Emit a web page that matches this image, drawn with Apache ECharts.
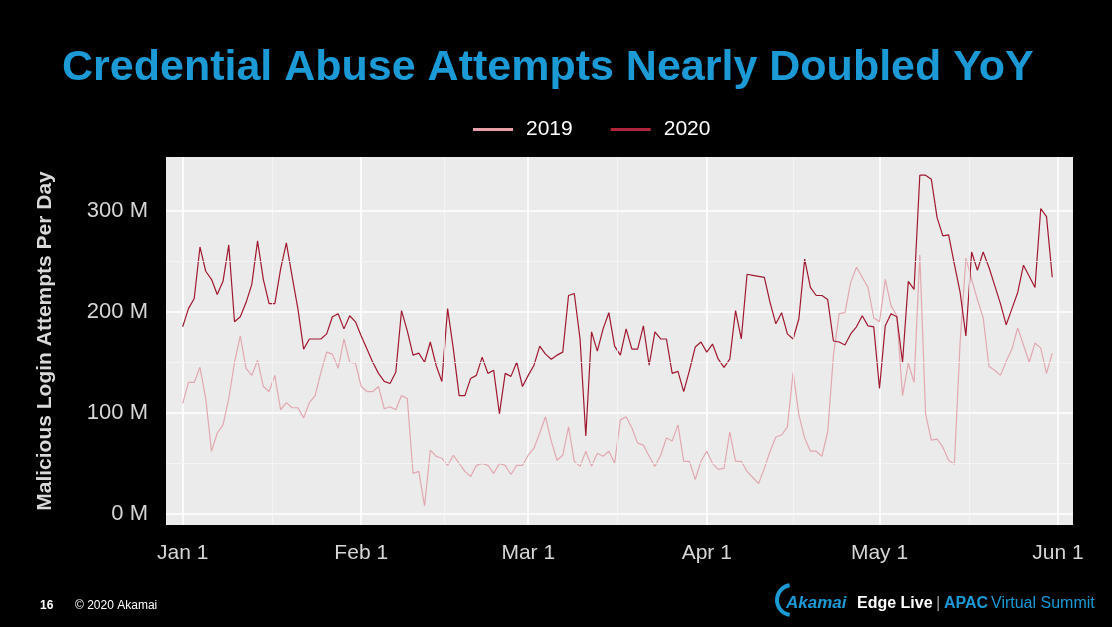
<!DOCTYPE html>
<html><head><meta charset="utf-8">
<script src="https://cdn.jsdelivr.net/npm/echarts@6/dist/echarts.min.js"></script>
<style>html,body{margin:0;padding:0;background:#000;} #c{width:1112px;height:627px;}</style>
</head><body><div id="c"></div>
<script>
const titleText = 'Credential Abuse Attempts Nearly Doubled YoY';
const yAxisTitle = 'Malicious Login Attempts Per Day';
const seriesNames = ['2019', '2020'];
const startDay = [2020, 0, 1];
const values2019 = [109,130,130,145,114,62,80,88,114,150,
176,144,137,152,126,121,137,103,110,105,
105,95,110,117,140,160,158,144,173,150,
149,126,121,121,126,104,106,103,117,114,
40,42,8,63,57,55,48,58,50,42,
37,48,50,48,40,50,48,39,48,48,
58,65,80,96,72,53,58,86,52,47,
62,47,60,57,62,50,93,96,85,70,
68,57,47,58,75,72,88,52,52,34,
52,62,50,44,45,81,52,52,42,36,
30,45,62,76,78,86,140,98,75,62,
62,57,81,157,198,199,229,244,234,224,
194,190,232,206,196,117,149,130,256,99,
73,74,66,53,49,170,253,232,212,194,
146,142,137,151,163,184,167,150,169,164,
139,159];
const values2020 = [185,203,213,264,240,232,217,230,266,190,
195,209,227,270,232,208,208,242,268,235,
203,163,173,173,173,178,195,198,183,196,
190,176,163,150,139,131,129,140,201,181,
157,159,150,170,147,131,203,163,117,117,
134,137,155,139,142,99,139,136,150,126,
137,147,166,158,153,157,160,216,218,173,
77,180,161,183,199,166,157,183,163,163,
186,147,180,173,173,139,141,121,142,165,
170,160,168,153,145,153,201,173,237,236,
235,234,209,188,199,178,173,193,252,224,
216,216,212,171,170,167,178,185,196,186,
185,124,186,198,195,150,230,222,335,335,
331,293,275,276,247,219,176,259,241,259,
244,226,208,187,203,219,246,235,224,302,
294,234];
const xTickDates = [[2020,0,1],[2020,1,1],[2020,2,1],[2020,3,1],[2020,4,1],[2020,5,1]];
const xTickLabels = ['Jan 1', 'Feb 1', 'Mar 1', 'Apr 1', 'May 1', 'Jun 1'];
const yTickValues = [0, 100, 200, 300];
const yMinorValues = [50, 150, 250];

// x axis measured in days since startDay
const DAY = 86400000;
const t0 = Date.UTC(startDay[0], startDay[1], startDay[2]);
const dayOf = (d) => Math.round((Date.UTC(d[0], d[1], d[2]) - t0) / DAY);
const xTickValues = xTickDates.map(dayOf);
const xMinorValues = xTickValues.slice(1).map((v, i) => (v + xTickValues[i]) / 2);
const data2019 = values2019.map((v, i) => [i, v]);
const data2020 = values2020.map((v, i) => [i, v]);
const FONT = 'Liberation Sans, Arial, Helvetica, sans-serif';

const chart = echarts.init(document.getElementById('c'), null, {renderer: 'canvas'});
chart.setOption({
  backgroundColor: '#000000',
  animation: false,
  title: {
    text: titleText, left: 57, top: 42,
    textStyle: {color: '#1b9ad6', fontSize: 43, fontWeight: 'bold', fontFamily: FONT}
  },
  legend: {
    data: seriesNames, left: 468, top: 114, icon: 'rect', itemWidth: 40, itemHeight: 3, itemGap: 38,
    textStyle: {color: '#ffffff', fontSize: 21, fontFamily: FONT, padding: [0, 0, 0, 8]}
  },
  grid: {left: 166, right: 39, top: 157, bottom: 102, show: true, backgroundColor: '#ebebeb', borderWidth: 0},
  xAxis: {
    type: 'value',
    min: -2.9,
    max: 154.6,
    axisLine: {show: false},
    axisTick: {show: false, customValues: xTickValues},
    axisLabel: {
      customValues: xTickValues, color: '#d6d6d6', fontSize: 21, fontFamily: FONT, margin: 18,
      formatter: (val, idx) => { const k = xTickValues.indexOf(val); return xTickLabels[k >= 0 ? k : idx]; }
    },
    splitLine: {show: true, lineStyle: {color: '#ffffff', width: 1.6}}
  },
  yAxis: {
    type: 'value', min: -11, max: 353,
    name: yAxisTitle, nameLocation: 'middle', nameGap: 110, nameRotate: 90,
    nameTextStyle: {color: '#d9d9d9', fontSize: 21, fontWeight: 'bold', fontFamily: FONT},
    axisLine: {show: false},
    axisTick: {show: false, customValues: yTickValues},
    axisLabel: {customValues: yTickValues, color: '#d6d6d6', fontSize: 22, fontFamily: FONT, margin: 18,
      formatter: (v) => v + ' M'},
    splitLine: {show: true, lineStyle: {color: '#ffffff', width: 1.6}}
  },
  series: [
    {
      type: 'line', name: 'minor', data: [], z: 1, silent: true,
      markLine: {
        silent: true, symbol: 'none', label: {show: false}, animation: false,
        lineStyle: {color: '#f6f6f6', width: 0.8, type: 'solid'},
        emphasis: {disabled: true},
        data: yMinorValues.map(v => ({yAxis: v})).concat(xMinorValues.map(v => ({xAxis: v})))
      }
    },
    {type: 'line', name: seriesNames[0], data: data2019, showSymbol: false, z: 2,
      itemStyle: {color: '#e6a0aa'}, lineStyle: {color: '#e2a8b0', width: 1.2}},
    {type: 'line', name: seriesNames[1], data: data2020, showSymbol: false, z: 3,
      itemStyle: {color: '#b0253c'}, lineStyle: {color: '#a01830', width: 1.2}}
  ],
  graphic: [
    {type: 'text', left: 40, top: 600, style: {text: '16', fill: '#ffffff', font: 'bold 12px ' + FONT}},
    {type: 'text', left: 75, top: 600, style: {text: '© 2020 Akamai', fill: '#ffffff', font: '12px ' + FONT}},
    {type: 'arc', shape: {cx: 792, cy: 600, r: 15, startAngle: Math.PI * 0.55, endAngle: Math.PI * 1.45},
      style: {stroke: '#1b9ad6', lineWidth: 4, fill: null}},
    {type: 'text', left: 786, top: 595, style: {text: 'Akamai', fill: '#1b9ad6', font: 'italic bold 17px ' + FONT}},
    {type: 'text', left: 857, top: 596, style: {text: 'Edge Live', fill: '#ffffff', font: 'bold 16px ' + FONT}},
    {type: 'text', left: 936, top: 595, style: {text: '|', fill: '#9a9a9a', font: '17px ' + FONT}},
    {type: 'text', left: 944, top: 596, style: {text: 'APAC', fill: '#1b9ad6', font: 'bold 16px ' + FONT}},
    {type: 'text', left: 991, top: 596, style: {text: 'Virtual Summit', fill: '#1b9ad6', font: '16px ' + FONT}}
  ]
});
</script></body></html>
